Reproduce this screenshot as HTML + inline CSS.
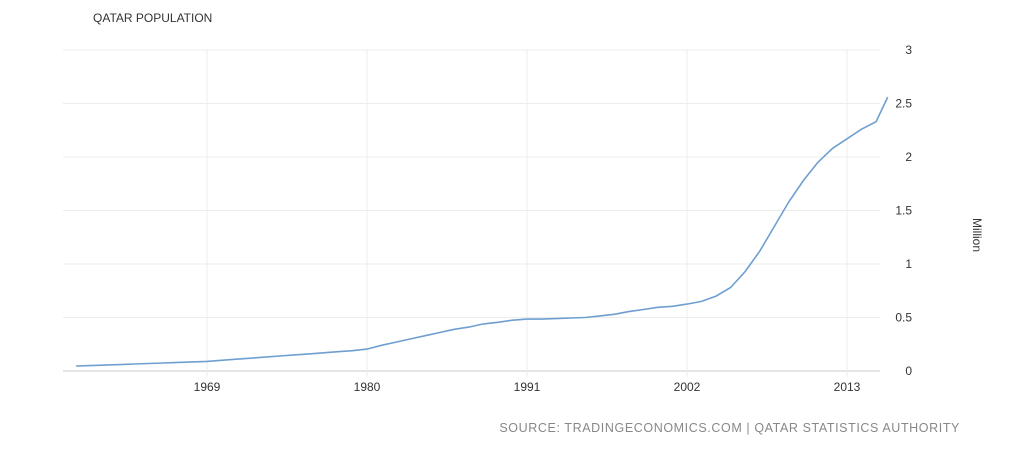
<!DOCTYPE html>
<html><head><meta charset="utf-8"><style>
html,body{margin:0;padding:0;background:#fff;}
body{width:1024px;height:445px;overflow:hidden;font-family:"Liberation Sans",sans-serif;}
text{font-family:"Liberation Sans",sans-serif;}
</style></head><body>
<svg id="chart" width="1024" height="445">
<text x="93" y="22" font-size="12" fill="#333">QATAR POPULATION</text>
<g id="grid"></g>
<g id="axes"></g>
<path id="line" fill="none" stroke="#6f9fd0" stroke-width="1.6"></path>
<text x="973" y="218" font-size="12" fill="#333" transform="rotate(90 973 218)">Million</text>
<text x="960" y="432" font-size="12.5" fill="#888" text-anchor="end" letter-spacing="0.6">SOURCE: TRADINGECONOMICS.COM | QATAR STATISTICS AUTHORITY</text>
</svg>
<script>
const years=[1960,1961,1962,1963,1964,1965,1966,1967,1968,1969,1970,1971,1972,1973,1974,1975,1976,1977,1978,1979,1980,1981,1982,1983,1984,1985,1986,1987,1988,1989,1990,1991,1992,1993,1994,1995,1996,1997,1998,1999,2000,2001,2002,2003,2004,2005,2006,2007,2008,2009,2010,2011,2012,2013,2014,2015,2015.8];
const values=[0.047,0.050,0.055,0.060,0.065,0.070,0.075,0.080,0.085,0.090,0.100,0.110,0.120,0.130,0.140,0.150,0.160,0.170,0.180,0.190,0.205,0.240,0.270,0.300,0.330,0.360,0.390,0.410,0.440,0.455,0.475,0.485,0.485,0.490,0.495,0.500,0.515,0.530,0.555,0.575,0.595,0.605,0.625,0.650,0.700,0.780,0.930,1.120,1.350,1.580,1.780,1.950,2.080,2.170,2.260,2.330,2.560];
const yTicks=[0,0.5,1,1.5,2,2.5,3];
const xTicks=[1969,1980,1991,2002,2013];
const ns="http://www.w3.org/2000/svg";
const L=63,R=880,T=50,B=371;
function xs(y){return 207+(y-1969)*(160/11);}
function ys(v){return B-(v/3)*(B-T);}
const grid=document.getElementById('grid'),axes=document.getElementById('axes');
yTicks.forEach(t=>{
 const l=document.createElementNS(ns,'line');
 l.setAttribute('x1',L);l.setAttribute('x2',R);l.setAttribute('y1',ys(t));l.setAttribute('y2',ys(t));
 l.setAttribute('stroke',t===0?'#ccc':'#ececec');l.setAttribute('stroke-width','1');
 
 
 grid.appendChild(l);
 const tx=document.createElementNS(ns,'text');
 tx.setAttribute('x',912);tx.setAttribute('y',ys(t)+4);tx.setAttribute('font-size','12');tx.setAttribute('fill','#333');tx.setAttribute('text-anchor','end');
 tx.textContent=String(t);
 
 
 axes.appendChild(tx);
});
xTicks.forEach(t=>{
 const l=document.createElementNS(ns,'line');
 l.setAttribute('x1',xs(t));l.setAttribute('x2',xs(t));l.setAttribute('y1',T);l.setAttribute('y2',B+6);
 l.setAttribute('stroke','#ececec');
 
 
 grid.appendChild(l);
 const tx=document.createElementNS(ns,'text');
 tx.setAttribute('x',xs(t));tx.setAttribute('y',B+20);tx.setAttribute('font-size','12');tx.setAttribute('fill','#333');tx.setAttribute('text-anchor','middle');
 tx.textContent=String(t);
 
 
 axes.appendChild(tx);
});
let d='';
years.forEach((y,i)=>{d+=(i?'L':'M')+xs(y).toFixed(1)+','+ys(values[i]).toFixed(1);});
document.getElementById('line').setAttribute('d',d);
</script>
</body></html>
